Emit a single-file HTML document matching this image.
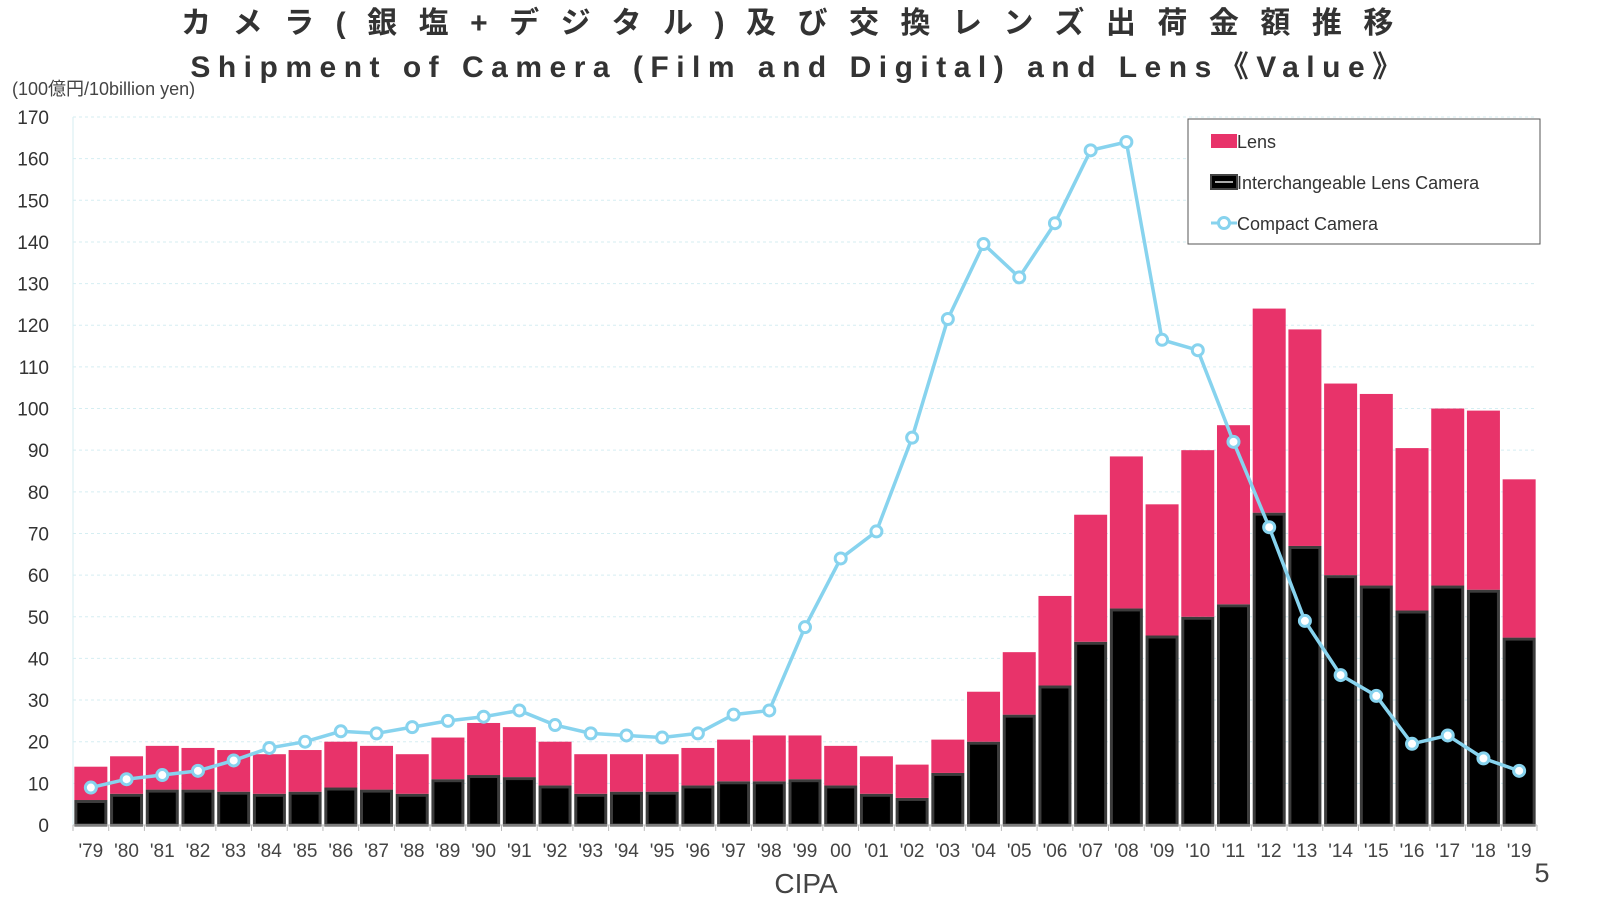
<!DOCTYPE html>
<html><head><meta charset="utf-8">
<style>
body{margin:0;background:#fff;width:1600px;height:900px;overflow:hidden;font-family:"Liberation Sans","Noto Sans CJK JP",sans-serif;}
svg{position:absolute;left:0;top:0}
</style></head>
<body>
<svg id="chart" width="1600" height="900" xmlns="http://www.w3.org/2000/svg">
<text x="798" y="33" text-anchor="middle" font-size="30" font-weight="bold" fill="#333" letter-spacing="21.5" font-family="Liberation Sans, Noto Sans CJK JP, sans-serif">カメラ(銀塩+デジタル)及び交換レンズ出荷金額推移</text>
<text x="800" y="77" text-anchor="middle" font-size="30" font-weight="bold" fill="#333" letter-spacing="7.5" font-family="Liberation Sans, Noto Sans CJK JP, sans-serif">Shipment of Camera (Film and Digital) and Lens《Value》</text>
<text x="12" y="95" font-size="18" fill="#444" font-family="Liberation Sans, Noto Sans CJK JP, sans-serif">(100億円/10billion yen)</text>
<g id="grid"></g><g id="bars"></g><g id="line"></g><g id="axes"></g>
<g>
<rect x="1188" y="119" width="352" height="125" fill="#fff" stroke="#555" stroke-width="1"/>
<rect x="1211" y="134" width="26" height="14" fill="#e8336a"/>
<text x="1237" y="148" font-size="18" fill="#333">Lens</text>
<rect x="1211" y="175" width="26" height="14" fill="#000" stroke="#444" stroke-width="2"/>
<line x1="1215" y1="182" x2="1233" y2="182" stroke="#aaa" stroke-width="2"/>
<text x="1237" y="189" font-size="18" fill="#333">Interchangeable Lens Camera</text>
<line x1="1211" y1="223" x2="1237" y2="223" stroke="#87d3ee" stroke-width="3"/>
<circle cx="1224" cy="223" r="5.5" fill="#fff" stroke="#87d3ee" stroke-width="3"/>
<text x="1237" y="230" font-size="18" fill="#333">Compact Camera</text>
</g>
<text x="806" y="893" text-anchor="middle" font-size="28" fill="#444">CIPA</text>
<text x="1542" y="882" text-anchor="middle" font-size="27" fill="#444">5</text>
</svg>
<script>
const categories=["'79","'80","'81","'82","'83","'84","'85","'86","'87","'88","'89","'90","'91","'92","'93","'94","'95","'96","'97","'98","'99","00","'01","'02","'03","'04","'05","'06","'07","'08","'09","'10","'11","'12","'13","'14","'15","'16","'17","'18","'19"];
const ilcValues=[6,7.5,8.5,8.5,8,7.5,8,9,8.5,7.5,11,12,11.5,9.5,7.5,8,8,9.5,10.5,10.5,11,9.5,7.5,6.5,12.5,20,26.5,33.5,44,52,45.5,50,53,75,67,60,57.5,51.5,57.5,56.5,45];
const lensValues=[8,9,10.5,10,10,9.5,10,11,10.5,9.5,10,12.5,12,10.5,9.5,9,9,9,10,11,10.5,9.5,9,8,8,12,15,21.5,30.5,36.5,31.5,40,43,49,52,46,46,39,42.5,43,38];
const compactValues=[9,11,12,13,15.5,18.5,20,22.5,22,23.5,25,26,27.5,24,22,21.5,21,22,26.5,27.5,47.5,64,70.5,93,121.5,139.5,131.5,144.5,162,164,116.5,114,92,71.5,49,36,31,19.5,21.5,16,13];
const yTicks=[0,10,20,30,40,50,60,70,80,90,100,110,120,130,140,150,160,170];
const NS="http://www.w3.org/2000/svg";
const x0=73,x1=1537,yb=825,yt=117;
const step=(x1-x0)/categories.length;
function xs(i){return x0+step*(i+0.5);}
function ys(v){return yb-(v/170)*(yb-yt);}
function mk(t,a,p){const e=document.createElementNS(NS,t);for(const k in a)e.setAttribute(k,a[k]);p.appendChild(e);return e;}
const grid=document.getElementById('grid'),bars=document.getElementById('bars'),line=document.getElementById('line'),axes=document.getElementById('axes');
yTicks.forEach(v=>{
  if(v>0){const g=mk('line',{x1:x0,x2:x1,y1:ys(v),y2:ys(v),stroke:'#d5eef2','stroke-dasharray':'3,3'},grid);
  
  }
  const t=mk('text',{x:49,y:ys(v)+7,'text-anchor':'end','font-size':19,fill:'#333'},axes);t.textContent=v;
  
  
});
mk('line',{x1:x0,x2:x0,y1:yt,y2:yb,stroke:'#d5eef2'},axes);
mk('line',{x1:x0,x2:x1,y1:yb,y2:yb,stroke:'#bbb'},axes);
for(let i=0;i<=categories.length;i++){mk('line',{x1:x0+step*i,x2:x0+step*i,y1:yb,y2:yb+6,stroke:'#bbb'},axes);}
const bw=33;
categories.forEach((c,i)=>{
  const b=mk('rect',{x:xs(i)-bw/2+1.5,y:ys(ilcValues[i])+1.5,width:bw-3,height:yb-ys(ilcValues[i])-1.5,fill:'#000',stroke:'#3c3c3c','stroke-width':3},bars);
  
  
  const tot=ilcValues[i]+lensValues[i];
  const l=mk('rect',{x:xs(i)-bw/2,y:ys(tot),width:bw,height:ys(ilcValues[i])-ys(tot),fill:'#e8336a'},bars);
  
  
  const t=mk('text',{x:xs(i),y:857,'text-anchor':'middle','font-size':19,fill:'#444'},axes);t.textContent=c;
  
  
});
const pl=mk('polyline',{points:compactValues.map((v,i)=>xs(i)+','+ys(v)).join(' '),fill:'none',stroke:'#87d3ee','stroke-width':3.5},line);


compactValues.forEach((v,i)=>{
  const c=mk('circle',{cx:xs(i),cy:ys(v),r:5.5,fill:'#fff',stroke:'#87d3ee','stroke-width':3},line);
  
  
});
</script>
</body></html>
